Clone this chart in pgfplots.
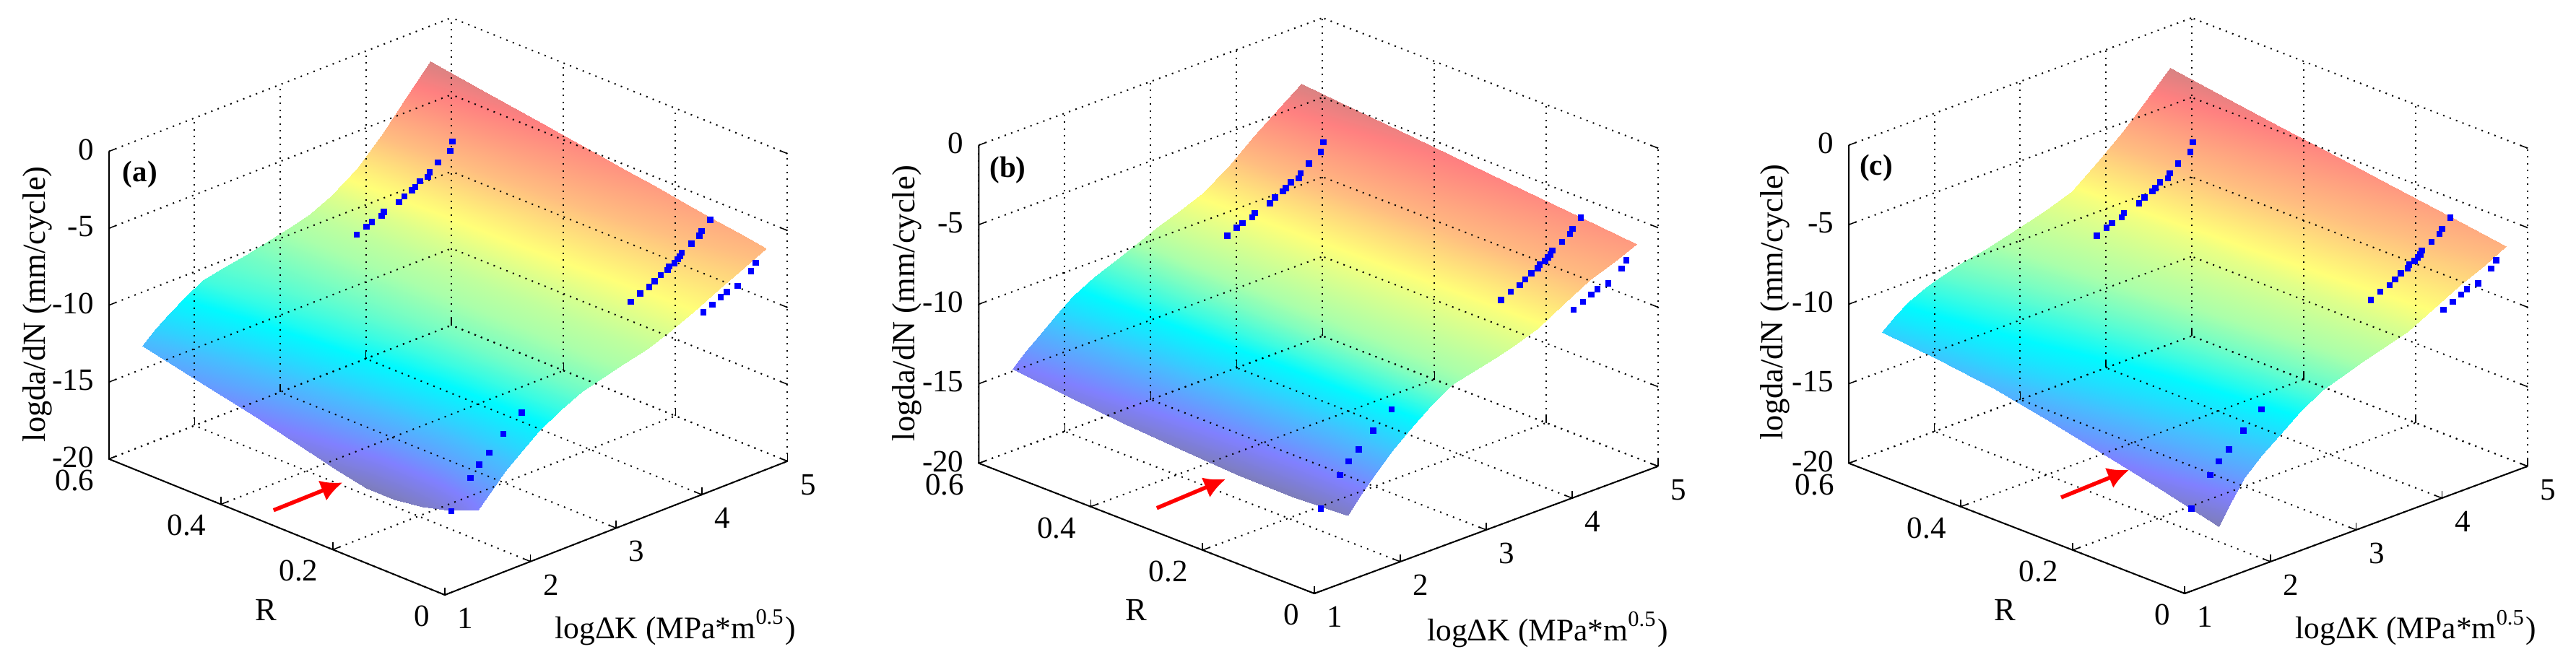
\documentclass[border=0pt]{standalone}
\usepackage{fontspec}
\setmainfont{Liberation Serif}
\usepackage{pgfplots}
\pgfplotsset{compat=1.18}
\usetikzlibrary{arrows.meta}

\pgfplotsset{
  colormap={paleJet}{
    rgb255(0)=(125,125,185) rgb255(11)=(128,128,255) rgb255(25)=(70,190,255)
    rgb255(37)=(0,250,255) rgb255(50)=(170,255,170) rgb255(62)=(255,255,120)
    rgb255(75)=(255,190,128) rgb255(92)=(255,128,128) rgb255(100)=(215,130,130)
  },
  panel/.style={
    anchor=south west,
    xmin=1, xmax=5, ymin=0, ymax=0.6, zmin=-20, zmax=0,
    xtick={1,2,3,4,5}, ytick={0,0.2,0.4,0.6}, ztick={-20,-15,-10,-5,0},
    clip=false,
    axis on top,
    axis line style={draw=none},
    grid=major,
    grid style={black, line width=0.4pt, dash pattern=on 0.4pt off 1.5pt},
    major tick style={black, line width=0.3pt},
    major tick length=2pt,
    tickpos=left,
    /pgf/number format/assume math mode=true,
    tick label style={font=\fontsize{8.6}{10}\selectfont, inner sep=0pt},
    xticklabel style={anchor=center, xshift=5.7pt, yshift=-6.5pt},
    yticklabel style={anchor=east, xshift=-3.9pt, yshift=-5.9pt},
    zticklabel style={anchor=east, xshift=-4.0pt, yshift=0.5pt},
    colormap name=paleJet,
  },
  surface/.style={surf, shader=interp, mesh/ordering=y varies, mesh/rows=#1, mesh/cols=14},
  dots/.style={only marks, mark=square*, mark size=0.65pt, blue, mark options={draw=blue, fill=blue}},
}
\newcommand{\labels}[9]{%
  \draw[black, line width=0.4pt] (axis cs:1,0.6,0) -- (axis cs:1,0.6,-20) -- (axis cs:1,0,-20) -- (axis cs:5,0,-20);
  \node[font=\fontsize{8.7}{10}\selectfont] at ([xshift=#1pt,yshift=#2pt]axis cs:1,0,-20) {logΔK (MPa*m\textsuperscript{0.5})};
  \node[font=\fontsize{8.9}{10}\selectfont] at ([xshift=#3pt,yshift=#4pt]axis cs:1,0,-20) {R};
  \node[font=\fontsize{8.9}{10}\selectfont, rotate=90] at ([xshift=#5pt,yshift=#6pt]axis cs:1,0.6,-20) {logda/dN (mm/cycle)};
  \node[font=\fontsize{8.2}{10}\selectfont\bfseries] at ([xshift=#7pt,yshift=#8pt]axis cs:1,0.6,-20) {#9};
}
\newcommand{\points}{%
  \addplot3[dots] table[row sep=\\] {
    4.359 0.5 -5.18\\ 4.330 0.5 -5.73\\ 4.190 0.5 -6.18\\ 4.092 0.5 -6.59\\ 4.072 0.5 -6.86\\
    3.979 0.5 -6.94\\ 3.923 0.5 -7.19\\ 3.887 0.5 -7.32\\ 3.796 0.5 -7.52\\ 3.735 0.5 -7.76\\
    3.558 0.5 -8.01\\ 3.529 0.5 -8.22\\ 3.417 0.5 -8.38\\ 3.352 0.5 -8.54\\ 3.240 0.5 -8.81\\
  };
  \addplot3[dots] table[row sep=\\] {
    4.751 0.1 -5.23\\ 4.653 0.1 -5.75\\ 4.624 0.1 -6.00\\ 4.532 0.1 -6.32\\ 4.419 0.1 -6.65\\
    4.400 0.1 -6.85\\ 4.371 0.1 -6.97\\ 4.335 0.1 -7.14\\ 4.273 0.1 -7.23\\ 4.253 0.1 -7.42\\
    4.175 0.1 -7.58\\ 4.105 0.1 -7.82\\ 4.042 0.1 -8.07\\ 3.936 0.1 -8.26\\ 3.823 0.1 -8.56\\
  };
  \addplot3[dots] table[row sep=\\] {
    4.632 0 -6.31\\ 4.575 0 -6.72\\ 4.421 0 -7.34\\ 4.294 0 -7.46\\ 4.223 0 -7.65\\
    4.126 0 -7.91\\ 4.019 0 -8.19\\
  };
  \addplot3[dots] table[row sep=\\] {
    2.223 0.05 -11.55\\ 2.012 0.05 -12.47\\ 1.844 0.05 -13.32\\ 1.726 0.05 -13.83\\
    1.625 0.05 -14.49\\ 1.403 0.05 -16.16\\
  };
}

\begin{document}
\begin{tikzpicture}
\path[use as bounding box] (0,0) rectangle (713.4pt,185.4pt);

% panel a
\begin{axis}[panel, at={(30.16pt,20.6pt)},
  x={(23.72pt,9.26pt)}, y={(-155.06pt,62.76pt)}, z={(0pt,4.26pt)},
  point meta min=-16.9, point meta max=-2.3]
\addplot3[surface=10] table[row sep=\\] {
1.39 0 -15.3\\ 1.39 0.05 -16.1\\ 1.39 0.1 -16.6\\ 1.39 0.15 -16.85\\ 1.39 0.2 -16.85\\ 1.39 0.25 -16.45\\ 1.39 0.3 -16.0\\ 1.39 0.4 -15.1\\ 1.39 0.5 -14.3\\ 1.39 0.6 -13.5\\
1.55 0 -14.4\\ 1.55 0.05 -14.9\\ 1.55 0.1 -15.32\\ 1.55 0.15 -15.42\\ 1.55 0.2 -15.41\\ 1.55 0.25 -15.1\\ 1.55 0.3 -14.75\\ 1.55 0.4 -14.02\\ 1.55 0.5 -13.36\\ 1.55 0.6 -12.7\\
1.7 0 -13.5\\ 1.7 0.05 -13.82\\ 1.7 0.1 -14.07\\ 1.7 0.15 -14.12\\ 1.7 0.2 -14.08\\ 1.7 0.25 -13.86\\ 1.7 0.3 -13.6\\ 1.7 0.4 -13.07\\ 1.7 0.5 -12.58\\ 1.7 0.6 -12.1\\
1.9 0 -12.55\\ 1.9 0.05 -12.72\\ 1.9 0.1 -12.83\\ 1.9 0.15 -12.83\\ 1.9 0.2 -12.78\\ 1.9 0.25 -12.62\\ 1.9 0.3 -12.43\\ 1.9 0.4 -12.05\\ 1.9 0.5 -11.7\\ 1.9 0.6 -11.35\\
2.1 0 -11.75\\ 2.1 0.05 -11.8\\ 2.1 0.1 -11.82\\ 2.1 0.15 -11.8\\ 2.1 0.2 -11.74\\ 2.1 0.25 -11.62\\ 2.1 0.3 -11.49\\ 2.1 0.4 -11.23\\ 2.1 0.5 -11.0\\ 2.1 0.6 -10.75\\
2.35 0 -10.9\\ 2.35 0.05 -10.9\\ 2.35 0.1 -10.91\\ 2.35 0.15 -10.89\\ 2.35 0.2 -10.85\\ 2.35 0.25 -10.81\\ 2.35 0.3 -10.76\\ 2.35 0.4 -10.65\\ 2.35 0.5 -10.56\\ 2.35 0.6 -10.45\\
2.6 0 -10.25\\ 2.6 0.05 -10.245\\ 2.6 0.1 -10.24\\ 2.6 0.15 -10.235\\ 2.6 0.2 -10.23\\ 2.6 0.25 -10.225\\ 2.6 0.3 -10.22\\ 2.6 0.4 -10.22\\ 2.6 0.5 -10.21\\ 2.6 0.6 -10.2\\
3.1 0 -9.5\\ 3.1 0.05 -9.505\\ 3.1 0.1 -9.51\\ 3.1 0.15 -9.515\\ 3.1 0.2 -9.52\\ 3.1 0.25 -9.52\\ 3.1 0.3 -9.52\\ 3.1 0.4 -9.53\\ 3.1 0.5 -9.54\\ 3.1 0.6 -9.55\\
3.35 0 -9.15\\ 3.35 0.05 -9.15\\ 3.35 0.1 -9.15\\ 3.35 0.15 -9.15\\ 3.35 0.2 -9.15\\ 3.35 0.25 -9.15\\ 3.35 0.3 -9.15\\ 3.35 0.4 -9.15\\ 3.35 0.5 -9.15\\ 3.35 0.6 -9.15\\
3.6 0 -8.65\\ 3.6 0.05 -8.64\\ 3.6 0.1 -8.63\\ 3.6 0.15 -8.625\\ 3.6 0.2 -8.62\\ 3.6 0.25 -8.61\\ 3.6 0.3 -8.6\\ 3.6 0.4 -8.58\\ 3.6 0.5 -8.57\\ 3.6 0.6 -8.55\\
3.9 0 -7.9\\ 3.9 0.05 -7.86\\ 3.9 0.1 -7.82\\ 3.9 0.15 -7.78\\ 3.9 0.2 -7.73\\ 3.9 0.25 -7.69\\ 3.9 0.3 -7.65\\ 3.9 0.4 -7.57\\ 3.9 0.5 -7.48\\ 3.9 0.6 -7.4\\
4.2 0 -7.1\\ 4.2 0.05 -6.99\\ 4.2 0.1 -6.88\\ 4.2 0.15 -6.78\\ 4.2 0.2 -6.67\\ 4.2 0.25 -6.56\\ 4.2 0.3 -6.45\\ 4.2 0.4 -6.23\\ 4.2 0.5 -6.02\\ 4.2 0.6 -5.8\\
4.5 0 -6.3\\ 4.5 0.05 -6.1\\ 4.5 0.1 -5.89\\ 4.5 0.15 -5.69\\ 4.5 0.2 -5.48\\ 4.5 0.25 -5.28\\ 4.5 0.3 -5.08\\ 4.5 0.4 -4.67\\ 4.5 0.5 -4.26\\ 4.5 0.6 -3.85\\
4.75 0 -5.6\\ 4.75 0.05 -5.33\\ 4.75 0.1 -5.05\\ 4.75 0.15 -4.78\\ 4.75 0.2 -4.5\\ 4.75 0.25 -4.23\\ 4.75 0.3 -3.95\\ 4.75 0.4 -3.4\\ 4.75 0.5 -2.85\\ 4.75 0.6 -2.3\\
};
\points
\labels{63.8}{-9}{-49.5}{-4.1}{-19.8}{42.9}{8.6}{78.9}{(a)}
\end{axis}

% panel b
\begin{axis}[panel, at={(271.08pt,21pt)},
  x={(23.8pt,8.81pt)}, y={(-154.84pt,60.14pt)}, z={(0pt,4.406pt)},
  point meta min=-16.05, point meta max=-3.66]
\addplot3[surface=7] table[row sep=\\] {
1.39 0 -15.87\\ 1.39 0.1 -16.05\\ 1.39 0.2 -16.0\\ 1.39 0.3 -15.8\\ 1.39 0.4 -15.55\\ 1.39 0.5 -15.2\\ 1.39 0.6 -14.87\\
1.55 0 -14.85\\ 1.55 0.1 -15.0\\ 1.55 0.2 -14.96\\ 1.55 0.3 -14.79\\ 1.55 0.4 -14.6\\ 1.55 0.5 -14.32\\ 1.55 0.6 -14.05\\
1.7 0 -13.95\\ 1.7 0.1 -14.07\\ 1.7 0.2 -14.05\\ 1.7 0.3 -13.94\\ 1.7 0.4 -13.79\\ 1.7 0.5 -13.59\\ 1.7 0.6 -13.4\\
1.9 0 -12.85\\ 1.9 0.1 -12.92\\ 1.9 0.2 -12.91\\ 1.9 0.3 -12.82\\ 1.9 0.4 -12.72\\ 1.9 0.5 -12.59\\ 1.9 0.6 -12.45\\
2.1 0 -11.95\\ 2.1 0.1 -11.98\\ 2.1 0.2 -11.96\\ 2.1 0.3 -11.92\\ 2.1 0.4 -11.85\\ 2.1 0.5 -11.77\\ 2.1 0.6 -11.7\\
2.35 0 -10.9\\ 2.35 0.1 -10.91\\ 2.35 0.2 -10.92\\ 2.35 0.3 -10.93\\ 2.35 0.4 -10.93\\ 2.35 0.5 -10.94\\ 2.35 0.6 -10.95\\
2.6 0 -10.1\\ 2.6 0.1 -10.15\\ 2.6 0.2 -10.2\\ 2.6 0.3 -10.25\\ 2.6 0.4 -10.3\\ 2.6 0.5 -10.35\\ 2.6 0.6 -10.4\\
3.1 0 -9.4\\ 3.1 0.1 -9.38\\ 3.1 0.2 -9.37\\ 3.1 0.3 -9.35\\ 3.1 0.4 -9.33\\ 3.1 0.5 -9.32\\ 3.1 0.6 -9.3\\
3.35 0 -9.0\\ 3.35 0.1 -8.97\\ 3.35 0.2 -8.93\\ 3.35 0.3 -8.9\\ 3.35 0.4 -8.87\\ 3.35 0.5 -8.83\\ 3.35 0.6 -8.8\\
3.6 0 -8.55\\ 3.6 0.1 -8.5\\ 3.6 0.2 -8.45\\ 3.6 0.3 -8.4\\ 3.6 0.4 -8.35\\ 3.6 0.5 -8.3\\ 3.6 0.6 -8.25\\
3.9 0 -7.6\\ 3.9 0.1 -7.53\\ 3.9 0.2 -7.45\\ 3.9 0.3 -7.38\\ 3.9 0.4 -7.3\\ 3.9 0.5 -7.23\\ 3.9 0.6 -7.15\\
4.2 0 -6.7\\ 4.2 0.1 -6.56\\ 4.2 0.2 -6.42\\ 4.2 0.3 -6.28\\ 4.2 0.4 -6.14\\ 4.2 0.5 -6.0\\ 4.2 0.6 -5.86\\
4.5 0 -6.1\\ 4.5 0.1 -5.86\\ 4.5 0.2 -5.62\\ 4.5 0.3 -5.38\\ 4.5 0.4 -5.14\\ 4.5 0.5 -4.9\\ 4.5 0.6 -4.66\\
4.75 0 -5.54\\ 4.75 0.1 -5.23\\ 4.75 0.2 -4.91\\ 4.75 0.3 -4.6\\ 4.75 0.4 -4.29\\ 4.75 0.5 -3.97\\ 4.75 0.6 -3.66\\
};
\points
\labels{64.6}{-10}{-49.4}{-4.5}{-20}{44.3}{8}{81.2}{(b)}
\end{axis}

% panel c
\begin{axis}[panel, at={(512pt,21pt)},
  x={(23.74pt,8.81pt)}, y={(-155.06pt,60.14pt)}, z={(0pt,4.406pt)},
  point meta min=-16.56, point meta max=-2.66]
\addplot3[surface=7] table[row sep=\\] {
1.39 0 -16.56\\ 1.39 0.1 -15.65\\ 1.39 0.2 -14.85\\ 1.39 0.3 -14.05\\ 1.39 0.4 -13.35\\ 1.39 0.5 -12.9\\ 1.39 0.6 -12.54\\
1.55 0 -15.2\\ 1.55 0.1 -14.44\\ 1.55 0.2 -13.77\\ 1.55 0.3 -13.1\\ 1.55 0.4 -12.51\\ 1.55 0.5 -12.12\\ 1.55 0.6 -11.8\\
1.7 0 -14.1\\ 1.7 0.1 -13.49\\ 1.7 0.2 -12.93\\ 1.7 0.3 -12.38\\ 1.7 0.4 -11.88\\ 1.7 0.5 -11.54\\ 1.7 0.6 -11.25\\
1.9 0 -13.1\\ 1.9 0.1 -12.61\\ 1.9 0.2 -12.17\\ 1.9 0.3 -11.73\\ 1.9 0.4 -11.32\\ 1.9 0.5 -11.02\\ 1.9 0.6 -10.75\\
2.1 0 -12.26\\ 2.1 0.1 -11.89\\ 2.1 0.2 -11.55\\ 2.1 0.3 -11.21\\ 2.1 0.4 -10.88\\ 2.1 0.5 -10.61\\ 2.1 0.6 -10.35\\
2.35 0 -11.25\\ 2.35 0.1 -11.02\\ 2.35 0.2 -10.79\\ 2.35 0.3 -10.58\\ 2.35 0.4 -10.37\\ 2.35 0.5 -10.18\\ 2.35 0.6 -10.0\\
2.6 0 -10.45\\ 2.6 0.1 -10.33\\ 2.6 0.2 -10.21\\ 2.6 0.3 -10.09\\ 2.6 0.4 -9.96\\ 2.6 0.5 -9.84\\ 2.6 0.6 -9.72\\
3.1 0 -9.55\\ 3.1 0.1 -9.46\\ 3.1 0.2 -9.37\\ 3.1 0.3 -9.28\\ 3.1 0.4 -9.18\\ 3.1 0.5 -9.09\\ 3.1 0.6 -9.0\\
3.35 0 -9.15\\ 3.35 0.1 -9.06\\ 3.35 0.2 -8.97\\ 3.35 0.3 -8.88\\ 3.35 0.4 -8.78\\ 3.35 0.5 -8.69\\ 3.35 0.6 -8.6\\
3.6 0 -8.7\\ 3.6 0.1 -8.6\\ 3.6 0.2 -8.5\\ 3.6 0.3 -8.4\\ 3.6 0.4 -8.3\\ 3.6 0.5 -8.2\\ 3.6 0.6 -8.1\\
3.9 0 -7.9\\ 3.9 0.1 -7.73\\ 3.9 0.2 -7.57\\ 3.9 0.3 -7.4\\ 3.9 0.4 -7.23\\ 3.9 0.5 -7.07\\ 3.9 0.6 -6.9\\
4.2 0 -7.07\\ 4.2 0.1 -6.82\\ 4.2 0.2 -6.56\\ 4.2 0.3 -6.31\\ 4.2 0.4 -6.06\\ 4.2 0.5 -5.8\\ 4.2 0.6 -5.55\\
4.5 0 -6.35\\ 4.5 0.1 -5.96\\ 4.5 0.2 -5.57\\ 4.5 0.3 -5.18\\ 4.5 0.4 -4.78\\ 4.5 0.5 -4.39\\ 4.5 0.6 -4.0\\
4.75 0 -5.66\\ 4.75 0.1 -5.16\\ 4.75 0.2 -4.66\\ 4.75 0.3 -4.16\\ 4.75 0.4 -3.66\\ 4.75 0.5 -3.16\\ 4.75 0.6 -2.66\\
};
\points
\labels{64}{-9.5}{-49.7}{-4.5}{-20.4}{44.6}{7.6}{81.8}{(c)}
\end{axis}

% red arrows
\draw[-{Latex[length=6pt,width=6pt]}, red, line width=1.1pt] (75.76pt,44.06pt) -- (94.9pt,51.74pt);
\draw[-{Latex[length=6pt,width=6pt]}, red, line width=1.1pt] (320.36pt,44.66pt) -- (339.48pt,52.7pt);
\draw[-{Latex[length=6pt,width=6pt]}, red, line width=1.1pt] (570.8pt,47.6pt) -- (589.7pt,55.3pt);
\end{tikzpicture}
\end{document}
